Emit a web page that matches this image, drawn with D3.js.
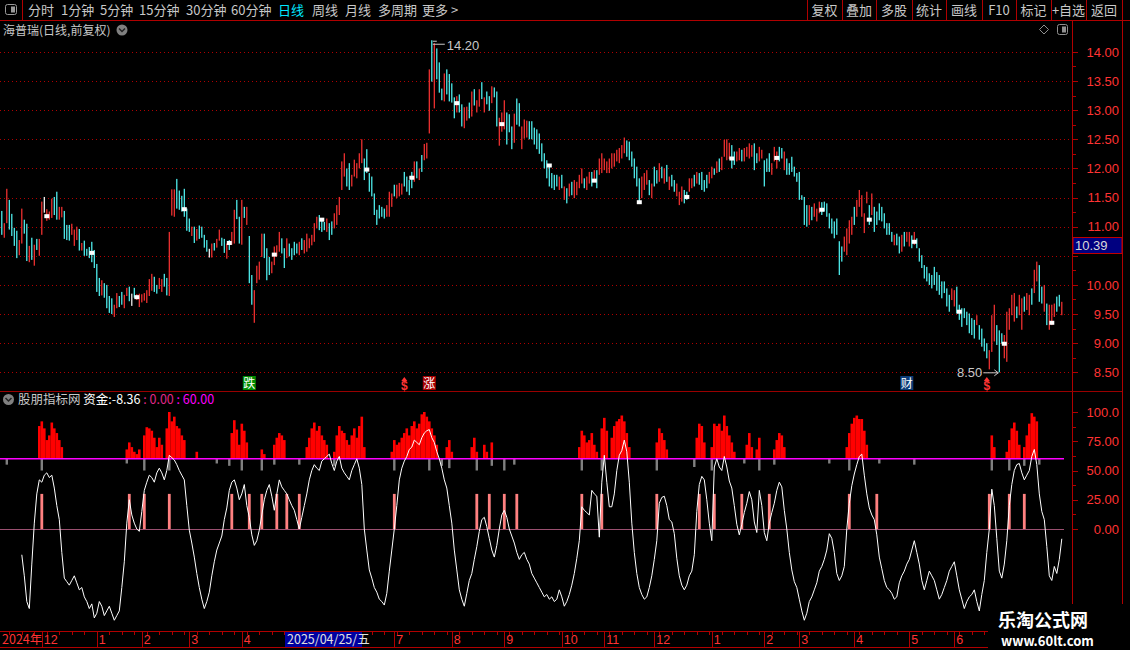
<!DOCTYPE html>
<html>
<head>
<meta charset="utf-8">
<script src="https://cdn.jsdelivr.net/npm/d3@7/dist/d3.min.js"></script>
<style>
    body { margin: 0; background: #000; overflow: hidden; }
    svg text { font-family: "Noto Sans CJK SC", "Liberation Sans", sans-serif; }
    .num { font-family: "Liberation Sans", "DejaVu Sans", sans-serif !important; }
</style>
</head>
<body>
<div id="canvas"></div>
<script>
// ---- candle data (daily, left to right) ----
var highs = [
    11.27,11.06,11.65,11.46,11.22,10.98,10.93,10.77,11.31,11.12,
    11.05,10.67,10.81,10.69,10.79,10.79,11.43,11.51,11.30,11.26,
    11.48,11.51,11.60,11.34,11.34,11.27,11.03,11.03,11.05,10.95,
    11.00,10.96,10.72,10.76,10.62,10.65,10.74,10.60,10.36,10.12,
    10.08,10.03,10.00,9.81,9.77,9.66,9.86,9.81,9.88,9.83,
    9.95,9.97,9.85,9.95,9.84,9.85,9.84,9.86,9.91,10.10,
    10.19,10.14,10.00,10.12,10.10,10.19,10.12,10.91,11.64,11.64,
    11.82,11.62,11.53,11.65,11.31,11.14,11.00,11.00,10.96,11.02,
    11.00,10.86,10.77,10.62,10.71,10.72,10.79,10.95,10.81,10.79,
    10.71,10.77,10.91,11.29,11.46,11.17,11.46,11.34,11.34,10.84,
    10.17,9.91,10.33,10.40,10.88,10.88,10.63,10.48,10.40,10.66,
    10.68,10.91,10.80,10.63,10.80,10.71,10.63,10.74,10.71,10.74,
    10.80,10.77,10.88,10.80,10.86,11.06,11.17,11.20,11.11,11.08,
    11.14,11.06,11.09,11.23,11.37,11.51,12.12,12.26,12.00,12.09,
    11.89,12.15,12.09,12.26,12.50,12.17,12.33,11.92,11.86,11.57,
    11.29,11.37,11.34,11.31,11.37,11.60,11.57,11.72,11.72,11.75,
    11.74,11.94,11.86,11.80,11.94,12.12,12.12,12.00,12.23,12.42,
    12.44,13.70,14.20,14.15,14.06,13.82,13.37,13.63,13.70,13.62,
    13.46,13.22,13.24,13.27,13.10,13.05,13.06,13.13,13.32,13.36,
    13.17,13.36,13.48,13.22,13.32,13.24,13.41,13.39,13.32,12.87,
    12.96,13.17,12.96,12.93,12.72,12.94,13.20,13.12,12.72,12.84,
    12.82,12.81,12.81,12.70,12.67,12.60,12.43,12.26,12.14,12.06,
    11.92,11.89,11.89,11.86,11.89,11.69,11.66,11.74,11.77,11.80,
    11.77,11.89,12.00,11.83,11.86,11.94,11.94,11.97,11.97,12.17,
    12.26,12.17,12.12,12.17,12.26,12.26,12.32,12.35,12.40,12.53,
    12.48,12.46,12.29,12.17,12.03,11.83,11.86,11.92,11.97,11.80,
    11.74,12.03,11.97,12.09,12.03,12.00,12.06,11.86,11.89,11.80,
    11.74,11.60,11.69,11.63,11.60,11.83,11.83,11.89,11.94,11.92,
    11.94,11.80,11.89,11.94,12.03,12.00,12.12,12.17,12.20,12.49,
    12.50,12.44,12.40,12.29,12.29,12.35,12.32,12.35,12.37,12.43,
    12.40,12.43,12.26,12.37,12.32,12.14,12.17,12.26,12.09,12.37,
    12.29,12.37,12.35,12.29,12.17,12.09,12.20,12.03,11.92,11.94,
    11.54,11.51,11.37,11.37,11.34,11.40,11.31,11.43,11.42,11.43,
    11.40,11.23,11.14,11.09,11.14,10.75,10.66,10.83,10.97,11.11,
    11.17,11.34,11.46,11.63,11.54,11.23,11.60,11.37,11.57,11.34,
    11.26,11.40,11.34,11.23,11.06,11.06,10.91,10.86,10.88,10.83,
    10.86,10.91,10.91,10.91,10.85,10.91,10.80,10.63,10.51,10.34,
    10.31,10.20,10.17,10.31,10.22,10.17,10.06,10.06,9.94,9.83,
    9.94,9.91,9.97,9.66,9.60,9.60,9.54,9.51,9.43,9.40,
    9.48,9.31,9.25,9.08,9.00,8.88,9.48,9.66,9.31,9.22,
    9.17,9.14,9.54,9.60,9.83,9.86,9.63,9.83,9.77,9.80,
    9.86,9.83,9.94,10.26,10.40,10.34,9.97,10.00,9.68,9.66,
    9.66,9.68,9.80,9.83,9.71
];
var lows = [
    10.86,10.81,11.06,10.95,10.84,10.67,10.46,10.51,10.71,10.88,
    10.41,10.39,10.43,10.33,10.60,10.50,10.86,11.24,11.10,11.12,
    11.15,11.20,11.12,11.12,11.16,10.79,10.77,10.76,10.86,10.67,
    10.77,10.59,10.59,10.50,10.50,10.46,10.39,10.29,9.88,9.81,
    9.82,9.78,9.60,9.52,9.50,9.45,9.60,9.62,9.66,9.60,
    9.81,9.72,9.64,9.78,9.74,9.62,9.70,9.73,9.69,9.81,
    9.90,9.88,9.85,9.93,9.88,9.97,9.82,9.81,11.19,11.17,
    11.31,11.29,11.26,11.17,10.93,10.91,10.84,10.72,10.76,10.79,
    10.81,10.64,10.57,10.47,10.47,10.59,10.64,10.76,10.67,10.55,
    10.45,10.60,10.69,10.71,11.13,10.71,10.69,11.15,11.03,10.03,
    9.66,9.35,10.03,10.09,10.48,10.46,10.08,10.17,10.20,10.34,
    10.49,10.57,10.54,10.29,10.46,10.49,10.43,10.51,10.54,10.51,
    10.60,10.54,10.57,10.63,10.68,10.74,10.97,10.94,10.91,10.94,
    10.91,10.77,10.86,10.97,11.03,11.20,11.63,11.86,11.69,11.63,
    11.69,11.86,11.83,12.00,12.09,11.80,11.92,11.60,11.52,11.20,
    11.03,11.14,11.17,11.14,11.17,11.17,11.34,11.52,11.49,11.52,
    11.55,11.69,11.60,11.54,11.66,11.77,11.83,11.80,11.94,12.14,
    12.17,12.60,13.49,13.03,13.53,13.30,13.17,13.15,13.27,13.15,
    13.13,12.86,12.96,12.96,12.72,12.69,12.82,12.86,12.89,13.08,
    12.96,13.06,13.19,12.96,13.10,12.99,13.12,13.22,12.72,12.39,
    12.63,12.67,12.41,12.62,12.33,12.44,12.75,12.72,12.33,12.51,
    12.53,12.50,12.50,12.41,12.33,12.25,12.12,12.00,11.83,11.69,
    11.66,11.63,11.69,11.63,11.66,11.46,11.40,11.52,11.54,11.49,
    11.54,11.66,11.74,11.66,11.63,11.74,11.69,11.77,11.66,11.89,
    11.92,11.97,11.92,11.92,12.00,12.03,12.12,12.09,12.17,12.26,
    12.20,12.14,12.03,11.83,11.69,11.43,11.49,11.63,11.72,11.54,
    11.49,11.69,11.74,11.77,11.83,11.74,11.77,11.63,11.69,11.60,
    11.52,11.37,11.43,11.40,11.46,11.60,11.66,11.69,11.74,11.72,
    11.63,11.60,11.66,11.74,11.83,11.89,11.92,11.94,11.97,12.20,
    12.14,12.16,12.00,12.06,12.12,12.14,12.12,12.12,12.20,12.17,
    12.20,11.97,12.09,12.12,12.17,11.69,11.94,11.94,11.89,12.12,
    12.00,12.12,12.17,11.97,11.89,11.89,11.94,11.86,11.77,11.46,
    11.46,11.03,11.00,11.03,11.11,11.17,11.09,11.23,11.20,11.26,
    11.17,10.97,10.88,10.80,10.86,10.17,10.40,10.57,10.51,10.71,
    10.86,11.03,11.17,11.34,11.17,10.89,11.40,11.03,11.20,10.91,
    11.03,11.11,11.09,10.97,10.86,10.86,10.74,10.68,10.68,10.54,
    10.57,10.66,10.74,10.66,10.63,10.69,10.63,10.40,10.29,10.11,
    10.06,10.00,9.94,10.00,9.90,9.83,9.77,9.86,9.63,9.54,
    9.74,9.63,9.51,9.40,9.28,9.43,9.31,9.17,9.14,9.08,
    9.31,9.06,8.94,8.86,8.74,8.55,8.85,9.03,8.97,8.50,
    8.99,8.74,8.68,9.23,9.48,9.37,9.43,9.48,9.23,9.54,
    9.57,9.48,9.66,9.86,10.06,9.71,9.68,9.54,9.31,9.23,
    9.31,9.45,9.54,9.63,9.48
];
// r = up (red), c = down (cyan), w = flat (white)
var dirs = (
    'crrccccrrc' + 'crcrcrrwrr' + 'rccrrcccrr' + 'rcrccccccc' + 'rccccrrccr' +
    'rcwcrrrrrr' + 'rccrrccrrr' + 'ccccccrcrc' + 'cccwrcrrcc' + 'rcrrccrcrc' +
    'crrrrcccrr' + 'rrccrccccr' + 'crrrrrrccc' + 'rccrrrrrcc' + 'rrrrrccccc' +
    'ccccrrrcrr' + 'rccccrcrcr' + 'rrcrcccrcc' + 'ccrccrrcrc' + 'rrcrccrccr' +
    'rrcccrccrr' + 'rccccccccc' + 'cccrcrcrcr' + 'rrrcrrcrcr' + 'rrrrrrrrrr' +
    'ccccccrrrc' + 'rccrcrcrcc' + 'rrrccrrcrc' + 'cccrrcrcrr' + 'rrccrrcrrr' +
    'rccrrcccrr' + 'rccrcccccc' + 'cccrcrrrcc' + 'cccccccrrr' + 'rcrrrrrcrc' +
    'cccccccrcc' + 'rcrrcrcccc' + 'cccccccccc' + 'rrcccccccc' + 'rccccrrrcc' +
    'crrrrrcrrc' + 'rrcrrccrcr' + 'rrccr'
).split('');

// white square marks on the price chart
var markIdx = [18, 36, 54, 73, 91, 109, 128, 146, 164, 182, 200, 219, 237, 255, 274, 292, 310, 328, 347, 365, 383, 401, 420];
var markPrice = [11.18, 10.55, 9.79, 11.30, 10.72, 10.52, 11.12, 11.98, 11.84, 13.12, 12.76, 12.05, 11.79, 11.42, 11.51, 12.17, 12.18, 11.29, 11.12, 10.74, 9.54, 8.99, 9.35];

// signal labels under the candles
var signalIdx = [99, 161, 171, 362, 394];
var signalText = ['跌', '$', '涨', '财', '$'];

// ---- indicator (资金) ----
var fund = [
    null,null,null,null,null,null,null,null,-22,-40,
    -62,-68,-30,5,30,42,40,46,48,44,
    46,35,20,8,-20,-42,-45,-48,-44,-40,
    -46,-52,-50,-58,-62,-68,-64,-76,-72,-62,
    -66,-74,-70,-66,-72,-78,-74,-70,-50,-28,
    5,25,12,5,0,-2,15,33,40,46,
    44,40,48,52,48,42,50,63,61,59,
    55,50,46,42,20,-1,-12,-24,-38,-50,
    -60,-68,-62,-54,-40,-28,-18,-12,-6,8,
    18,33,40,42,35,25,30,38,20,10,
    -5,-14,-10,-1,12,25,33,38,28,16,
    30,42,36,33,30,25,20,16,8,0,
    10,20,30,42,50,55,52,50,58,60,
    62,64,56,50,58,62,52,48,45,42,
    50,55,60,52,38,0,-18,-35,-42,-50,
    -54,-60,-62,-65,-55,-36,-18,0,20,42,
    52,58,62,68,70,76,74,72,78,82,
    84,85,78,74,66,60,52,42,35,20,
    5,-18,-35,-52,-60,-66,-55,-44,-38,-26,
    -15,-2,8,10,2,-8,-18,-24,-14,0,
    12,16,10,0,-6,-12,-20,-26,-22,-20,
    -26,-30,-38,-42,-46,-50,-54,-58,-56,-60,
    -58,-62,-60,-52,-58,-66,-62,-56,-48,-38,
    -25,-10,19,16,14,12,33,30,28,-7,
    40,63,40,19,19,30,50,63,67,76,
    66,40,5,-20,-38,-50,-56,-60,-58,-50,
    -40,-26,-10,22,27,28,20,8,6,-4,
    -25,-40,-48,-52,-48,-40,-36,-22,15,38,
    45,42,25,5,-10,53,60,53,50,62,
    53,41,35,20,4,-5,4,14,22,32,
    25,6,-3,33,20,-3,-10,5,14,22,
    33,40,36,16,0,-20,-35,-45,-50,-60,
    -70,-78,-72,-62,-58,-52,-46,-36,-32,-26,
    -18,-4,-8,-20,-38,-44,-40,-32,0,22,
    37,47,55,62,64,46,30,18,12,8,
    -5,-24,-34,-44,-50,-52,-55,-60,-58,-46,
    -40,-36,-30,-26,-18,-10,-20,-30,-44,-52,
    -44,-36,-40,-44,-52,-60,-56,-50,-44,-36,
    -32,-28,-40,-52,-60,-68,-62,-58,-56,-52,
    -62,-70,-56,-44,-20,0,34,20,-8,-36,
    -42,-30,-10,20,38,50,55,56,48,42,
    46,50,62,68,55,30,15,8,-15,-40,
    -44,-32,-38,-26,-8.36
];
// red strength columns above the 60 line: [bar index, value]
var redBars = [
    [15,88],[16,92],[17,86],[18,76],[19,80],[20,91],[21,86],[22,82],[23,76],[24,70],
    [50,68],[51,74],[52,70],[53,66],[54,64],[55,68],
    [57,80],[58,87],[59,86],[60,84],[61,78],[62,70],[63,78],[64,72],
    [66,86],[67,100],[68,92],[69,96],[70,88],[71,86],[72,80],[73,76],[78,66],
    [92,82],[93,93],[94,85],[95,72],[96,90],[97,84],[98,74],
    [104,68],[105,64],
    [109,72],[110,78],[111,82],[112,80],[113,76],
    [122,70],[123,78],[124,86],[125,91],[126,84],[127,88],[128,80],[129,76],[130,72],
    [133,66],[134,80],[135,88],[136,84],[137,82],[138,76],[139,72],[140,80],[141,86],[142,78],[143,88],[144,96],[145,70],
    [156,66],[157,76],[158,72],[159,74],[160,78],[161,82],[162,86],[163,80],[164,88],[165,92],
    [166,86],[167,90],[168,98],[169,100],[170,96],[171,92],[172,86],[173,80],[174,72],
    [178,70],[179,76],[180,66],
    [188,70],[189,78],[190,66],[193,72],[194,66],[196,74],
    [231,70],[232,84],[233,80],[234,74],[235,76],[236,82],[237,72],[238,66],
    [240,86],[241,95],[242,84],
    [244,78],[245,88],[246,92],[247,94],[248,97],[249,92],[250,82],[251,70],
    [262,74],[263,86],[264,82],[265,76],[266,68],
    [278,78],[279,90],[280,88],[281,74],
    [284,70],[285,90],[286,88],[287,90],[288,84],[289,97],[290,88],[291,80],[292,74],[293,66],
    [298,72],[299,82],[300,70],[302,68],[303,78],
    [309,68],[310,76],[311,82],[312,80],[313,70],
    [338,70],[339,82],[340,90],[341,95],[342,97],[343,94],[344,94],[345,84],[346,72],
    [396,80],[397,70],
    [402,66],[403,76],[404,86],[405,91],[406,84],[407,72],
    [409,70],[410,80],[411,90],[412,99],[413,96],[414,92]
];
// grey sticks under the 60 line: [bar index, bottom value]
var greyBars = [
    [2,55],[16,50],[50,56],[57,50],[67,50],[86,56],[91,54],[96,50],[104,50],[109,55],
    [119,55],[133,54],[157,50],[171,50],[176,54],[179,52],[190,50],[196,54],[201,50],[205,55],
    [232,50],[240,50],[262,50],[277,53],[284,50],[297,56],[303,50],[309,55],[331,56],[339,50],
    [351,56],[365,55],[396,50],[403,50],[409,54],[415,55]
];
// pink columns from 0 up
var pinkIdx = [16,51,57,67,92,99,104,110,114,119,157,190,195,201,206,232,240,262,279,285,296,307,339,350,395,403,409];
var pinkValue = 30;

// axis ticks (10.50 label sits under the price box)
var priceGrid = [14, 13.5, 13, 12.5, 12, 11.5, 11, 10.5, 10, 9.5, 9, 8.5];
var priceLabels = [14, 13.5, 13, 12.5, 12, 11.5, 11, 10, 9.5, 9, 8.5];
var fundTicks = [100, 75, 50, 25, 0];
var monthIdx = [16, 38, 56, 75, 96, 157, 180, 201, 224, 241, 261, 284, 305, 319, 341, 363, 381];
var monthLabels = ['12','1','2','3','4','7','8','9','10','11','12','1','2','3','4','5','6'];

var menuLeft = [['分时',28],['1分钟',61],['5分钟',100],['15分钟',139],['30分钟',186],['60分钟',231],['日线',278],['周线',312],['月线',345],['多周期',378],['更多 >',422]];
var menuRight = ['复权','叠加','多股','统计','画线','F10','标记','+自选','返回'];
var menuEdges = [807, 842, 876, 912, 946, 982, 1016, 1051, 1086, 1122];

const W = 1130, H = 650;
const RED = '#ff3333', CYAN = '#54fcfc', LINE = '#b00000';
var N = highs.length;

var svg = d3.select('#canvas').append('svg').attr('width', W).attr('height', H);
svg.append('rect').attr('width', W).attr('height', H).attr('fill', '#000');

var x = d3.scaleLinear().domain([0, N - 1]).range([1.8, 1.8 + 2.5 * (N - 1)]);
var yP = d3.scaleLinear().domain([8.5, 14]).range([372.3, 51.9]);
var yI = d3.scaleLinear().domain([0, 100]).range([529, 412]);

var defs = svg.append('defs');
defs.append('clipPath').attr('id', 'clipMain').append('rect').attr('x', 0).attr('y', 36).attr('width', 1072).attr('height', 355);
defs.append('clipPath').attr('id', 'clipInd').append('rect').attr('x', 0).attr('y', 392).attr('width', 1072).attr('height', 238);

// ---------- toolbar ----------
var bar = svg.append('g');
bar.append('line').attr('x1', 0).attr('x2', W).attr('y1', 20.5).attr('y2', 20.5).attr('stroke', LINE);
bar.append('line').attr('x1', 22.5).attr('x2', 22.5).attr('y1', 0).attr('y2', 20).attr('stroke', LINE);
bar.append('rect').attr('x', 5.5).attr('y', 4.5).attr('width', 11).attr('height', 10).attr('rx', 2)
    .attr('fill', 'none').attr('stroke', '#9a9a9a');
bar.append('rect').attr('x', 11).attr('y', 6.5).attr('width', 4).attr('height', 6).attr('fill', '#9a9a9a');
bar.selectAll('text.ml').data(menuLeft).enter().append('text')
    .attr('x', d => d[1]).attr('y', 15).attr('font-size', '13px')
    .attr('fill', d => d[0] === '日线' ? '#00e8ff' : '#c8c8c8')
    .text(d => d[0]);
bar.selectAll('line.sep').data(menuEdges).enter().append('line')
    .attr('x1', d => d + 0.5).attr('x2', d => d + 0.5).attr('y1', 0).attr('y2', 20).attr('stroke', LINE);
bar.selectAll('text.mr').data(menuRight).enter().append('text')
    .attr('x', (d, i) => (menuEdges[i] + menuEdges[i + 1]) / 2).attr('y', 15)
    .attr('text-anchor', 'middle').attr('font-size', '13px').attr('fill', '#c8c8c8')
    .text(d => d);

// title row
svg.append('text').attr('x', 3).attr('y', 35).attr('font-size', '12px').attr('fill', '#c8c8c8').text('海普瑞(日线,前复权)');
svg.append('circle').attr('cx', 122).attr('cy', 30).attr('r', 5.5).attr('fill', '#808080');
svg.append('path').attr('d', 'M119,28.5 L122,31.5 L125,28.5').attr('fill', 'none').attr('stroke', '#222').attr('stroke-width', 1.5);
svg.append('path').attr('d', 'M1044,25 L1048.5,29.5 L1044,34 L1039.5,29.5 Z').attr('fill', 'none').attr('stroke', '#909090');
svg.append('rect').attr('x', 1057.5).attr('y', 24.5).attr('width', 10).attr('height', 10).attr('rx', 2).attr('fill', 'none').attr('stroke', '#909090');
svg.append('rect').attr('x', 1062).attr('y', 26.5).attr('width', 4).attr('height', 6).attr('fill', '#909090');

// frame lines
svg.append('line').attr('x1', 1072.5).attr('x2', 1072.5).attr('y1', 20).attr('y2', 631).attr('stroke', LINE);
svg.append('line').attr('x1', 1122.5).attr('x2', 1122.5).attr('y1', 20).attr('y2', 631).attr('stroke', LINE);
svg.append('line').attr('x1', 0).attr('x2', 1122).attr('y1', 391.5).attr('y2', 391.5).attr('stroke', '#990000');

// ---------- main price chart ----------
var main = svg.append('g').attr('clip-path', 'url(#clipMain)');

// dotted grid
main.selectAll('line.grid').data(priceGrid).enter().append('line')
    .attr('x1', 0).attr('x2', 1072).attr('y1', d => Math.round(yP(d)) + 0.5).attr('y2', d => Math.round(yP(d)) + 0.5)
    .attr('stroke', '#b00000').attr('stroke-dasharray', '1,3');

var candleColor = { r: RED, c: CYAN, w: '#ffffff' };
main.selectAll('rect.k').data(d3.range(N)).enter().append('rect')
    .attr('x', i => x(i) - 0.6).attr('width', 1.2)
    .attr('y', i => yP(highs[i]))
    .attr('height', i => Math.max(1, yP(lows[i]) - yP(highs[i])))
    .attr('fill', i => candleColor[dirs[i]]);

main.selectAll('rect.mk').data(markIdx).enter().append('rect')
    .attr('x', d => x(d) - 2.5).attr('y', (d, k) => yP(markPrice[k]) - 2)
    .attr('width', 5).attr('height', 4).attr('fill', '#ffffff');

// high / low annotations
var hiI = d3.maxIndex(highs), loI = d3.minIndex(lows);
main.append('path')
    .attr('d', `M${x(hiI) + 1},${yP(highs[hiI]) + 1} L${x(hiI) + 5},${yP(highs[hiI]) + 1} M${x(hiI) + 1},${yP(highs[hiI]) + 4} L${x(hiI) + 13},${yP(highs[hiI]) + 4}`)
    .attr('stroke', '#c8c8c8').attr('fill', 'none');
main.append('text').attr('class', 'num').attr('x', x(hiI) + 15).attr('y', yP(highs[hiI]) + 5)
    .attr('dy', '0.35em').attr('font-size', '13px').attr('fill', '#c8c8c8').text(highs[hiI].toFixed(2));
main.append('text').attr('class', 'num').attr('x', x(loI) - 17).attr('y', yP(lows[loI]))
    .attr('dy', '0.35em').attr('text-anchor', 'end').attr('font-size', '13px').attr('fill', '#c8c8c8')
    .text(lows[loI].toFixed(2));
main.append('path')
    .attr('d', `M${x(loI) - 16},${yP(lows[loI]) + 0.5} L${x(loI) - 1},${yP(lows[loI]) + 0.5} M${x(loI) - 5},${yP(lows[loI]) - 2.5} L${x(loI) - 1},${yP(lows[loI]) + 0.5} L${x(loI) - 5},${yP(lows[loI]) + 3.5}`)
    .attr('stroke', '#c8c8c8').attr('fill', 'none');

// signal labels
var sig = svg.append('g');
signalIdx.forEach(function (idx, k) {
    var t = signalText[k], cx = x(idx);
    if (t === '$') {
        sig.append('path').attr('d', `M${cx - 3},${381} L${cx},${377} L${cx + 3},${381} Z`).attr('fill', RED);
        sig.append('text').attr('class', 'num').attr('x', cx).attr('y', 390).attr('text-anchor', 'middle')
            .attr('font-size', '12px').attr('font-weight', 'bold').attr('fill', RED).text('$');
    } else {
        var bg = t === '跌' ? '#008c00' : (t === '涨' ? '#a80000' : '#0c3c78');
        sig.append('rect').attr('x', cx - 6.5).attr('y', 376).attr('width', 13).attr('height', 14).attr('fill', bg);
        sig.append('text').attr('x', cx).attr('y', 388).attr('text-anchor', 'middle')
            .attr('font-size', '12px').attr('fill', '#ffffff').text(t);
    }
});

// price axis
var pAxis = svg.append('g').attr('transform', 'translate(1119,0)')
    .call(d3.axisLeft(yP).tickValues(priceLabels).tickFormat(d3.format('.2f')).tickSize(0).tickPadding(0));
pAxis.select('.domain').remove();
pAxis.selectAll('text').attr('class', 'num').attr('fill', RED).attr('font-size', '13px');
svg.selectAll('line.ptk').data(d3.range(8.5, 14.01, 0.25)).enter().append('line')
    .attr('x1', 1073).attr('x2', (d, i) => i % 2 === 0 ? 1078 : 1076)
    .attr('y1', d => Math.round(yP(d)) + 0.5).attr('y2', d => Math.round(yP(d)) + 0.5).attr('stroke', LINE);

// current price box
svg.append('rect').attr('x', 1073).attr('y', 237.5).attr('width', 49).attr('height', 16)
    .attr('fill', '#000080').attr('stroke', '#c00000');
svg.append('text').attr('class', 'num').attr('x', 1075).attr('y', 250).attr('font-size', '13px')
    .attr('fill', '#d8d8d8').text('10.39');

// ---------- indicator panel ----------
var ind = svg.append('g').attr('clip-path', 'url(#clipInd)');

ind.selectAll('rect.red').data(redBars).enter().append('rect')
    .attr('x', d => x(d[0]) - 1.3).attr('width', 2.6)
    .attr('y', d => yI(d[1])).attr('height', d => yI(60) - yI(d[1]))
    .attr('fill', '#ff0000');

ind.selectAll('rect.grey').data(greyBars).enter().append('rect')
    .attr('x', d => x(d[0]) - 1.2).attr('width', 2.4)
    .attr('y', yI(60)).attr('height', d => yI(d[1]) - yI(60))
    .attr('fill', '#808080');

ind.append('line').attr('x1', 0).attr('x2', 1064).attr('y1', yI(0) + 0.5).attr('y2', yI(0) + 0.5)
    .attr('stroke', '#9a5070');
ind.append('line').attr('x1', 0).attr('x2', 1064).attr('y1', yI(60)).attr('y2', yI(60))
    .attr('stroke', '#ff00ff').attr('stroke-width', 1.5);

ind.selectAll('rect.pink').data(pinkIdx).enter().append('rect')
    .attr('x', d => x(d) - 1.4).attr('width', 2.8)
    .attr('y', yI(pinkValue)).attr('height', yI(0) - yI(pinkValue))
    .attr('fill', '#ff8080');

var fundLine = d3.line().defined(d => d !== null).x((d, i) => x(i)).y(d => yI(d));
ind.append('path').datum(fund).attr('d', fundLine)
    .attr('fill', 'none').attr('stroke', '#ffffff').attr('stroke-width', 1);

// legend
svg.append('circle').attr('cx', 8.5).attr('cy', 399.5).attr('r', 5.5).attr('fill', '#808080');
svg.append('path').attr('d', 'M5.5,398 L8.5,401 L11.5,398').attr('fill', 'none').attr('stroke', '#222').attr('stroke-width', 1.5);
var leg = svg.append('text').attr('x', 18).attr('y', 404).attr('font-size', '12.5px');
leg.append('tspan').attr('fill', '#c8c8c8').text('股朋指标网 ');
leg.append('tspan').attr('fill', '#ffffff').text('资金:' + fund[N - 1].toFixed(2) + ' ');
leg.append('tspan').attr('fill', '#e0288a').text(': 0.00 ');
leg.append('tspan').attr('fill', '#ff00ff').text(': 60.00');

// indicator axis
var iAxis = svg.append('g').attr('transform', 'translate(1119,0)')
    .call(d3.axisLeft(yI).tickValues(fundTicks).tickFormat(d => d === 100 ? '100.0' : d.toFixed(2)).tickSize(0).tickPadding(0));
iAxis.select('.domain').remove();
iAxis.selectAll('text').attr('class', 'num').attr('fill', RED).attr('font-size', '13px');
svg.selectAll('line.itk').data(d3.range(0, 101, 12.5)).enter().append('line')
    .attr('x1', 1073).attr('x2', (d, i) => i % 2 === 0 ? 1078 : 1076)
    .attr('y1', d => Math.round(yI(d)) + 0.5).attr('y2', d => Math.round(yI(d)) + 0.5).attr('stroke', LINE);

// ---------- date axis ----------
var ax = svg.append('g');
ax.append('line').attr('x1', 0).attr('x2', 1122).attr('y1', 631.5).attr('y2', 631.5).attr('stroke', LINE);
ax.append('line').attr('x1', 0).attr('x2', 1122).attr('y1', 647.5).attr('y2', 647.5).attr('stroke', LINE);
ax.selectAll('line.wk').data(d3.range(3, N, 5)).enter().append('line')
    .attr('x1', d => Math.round(x(d)) + 0.5).attr('x2', d => Math.round(x(d)) + 0.5)
    .attr('y1', 631).attr('y2', 635).attr('stroke', LINE);
ax.selectAll('line.mo').data(monthIdx).enter().append('line')
    .attr('x1', d => Math.round(x(d)) + 0.5).attr('x2', d => Math.round(x(d)) + 0.5)
    .attr('y1', 631).attr('y2', 647).attr('stroke', LINE);
ax.selectAll('text.mo').data(monthIdx).enter().append('text')
    .attr('class', 'num').attr('x', d => x(d) + 2).attr('y', 644).attr('font-size', '12.5px')
    .attr('fill', RED).text((d, i) => monthLabels[i]);
ax.append('text').attr('x', 2).attr('y', 644).attr('font-size', '12.5px').attr('fill', RED).text('2024年');
ax.append('rect').attr('x', 285).attr('y', 632).attr('width', 77).attr('height', 15).attr('fill', '#0000a0');
ax.append('text').attr('x', 287).attr('y', 644).attr('font-size', '12.5px').attr('fill', '#e0e0e0').text('2025/04/25/五');

// watermark
svg.append('rect').attr('x', 988).attr('y', 604).attr('width', 142).attr('height', 46).attr('fill', '#000');
svg.append('text').attr('x', 998).attr('y', 627).attr('font-size', '18px').attr('font-weight', 'bold')
    .attr('fill', '#ffffff').text('乐淘公式网');
svg.append('text').attr('x', 1001).attr('y', 646).attr('font-size', '13px').attr('font-weight', 'bold')
    .attr('font-family', '"Liberation Serif", serif').attr('fill', '#ffffff').text('www.60lt.com');
</script>
</body>
</html>
